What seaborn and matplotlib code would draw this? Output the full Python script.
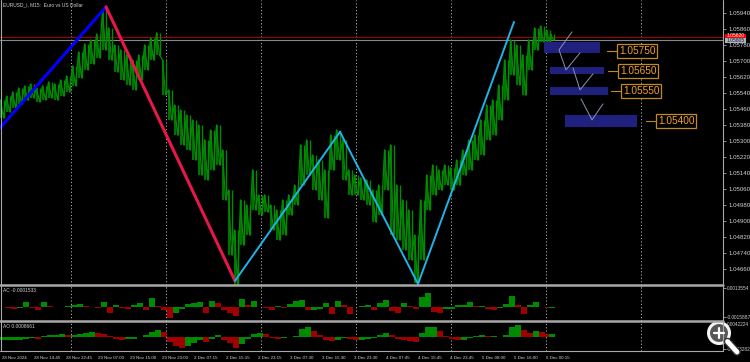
import matplotlib
matplotlib.use("Agg")
import matplotlib.pyplot as plt
import matplotlib.transforms as mtransforms
from matplotlib.patches import Rectangle, Circle
import seaborn as sns
import pandas as pd

sns.set_style("dark")
plt.rcParams['font.family'] = ['Liberation Sans', 'DejaVu Sans']

# ---------------- data ----------------
bar_idx = list(range(2, 549, 6)) + [552]

price_high = [1.05507, 1.05527, 1.05547, 1.05567, 1.05577, 1.05587, 1.05567, 1.05577, 1.05597, 1.05587,
              1.05607, 1.05627, 1.05677, 1.05747, 1.05787, 1.05807, 1.05837, 1.05957, 1.05867, 1.05782,
              1.05757, 1.05732, 1.05707, 1.05732, 1.05782, 1.05817, 1.05842, 1.05707, 1.05557, 1.05482,
              1.05457, 1.05432, 1.05407, 1.05382, 1.05307, 1.05357, 1.05382, 1.05257, 1.05057, 1.04857,
              1.05007, 1.04982, 1.05157, 1.05032, 1.05032, 1.04982, 1.04957, 1.05007, 1.05032, 1.05082,
              1.05282, 1.05307, 1.05232, 1.05207, 1.05157, 1.05332, 1.05357, 1.05307, 1.05157, 1.05132,
              1.05117, 1.05107, 1.05057, 1.05082, 1.05257, 1.05282, 1.05082, 1.05007, 1.04957, 1.04832,
              1.05007, 1.05132, 1.05182, 1.05157, 1.05182, 1.05167, 1.05207, 1.05257, 1.05307, 1.05332,
              1.05407, 1.05482, 1.05507, 1.05582, 1.05707, 1.05807, 1.05782, 1.05732, 1.05807, 1.05867,
              1.05877, 1.05857, 1.05837]

price_low = [1.05417, 1.05447, 1.05467, 1.05487, 1.05507, 1.05517, 1.05497, 1.05507, 1.05517, 1.05507,
             1.05527, 1.05547, 1.05577, 1.05617, 1.05657, 1.05687, 1.05717, 1.05757, 1.05707, 1.05647,
             1.05607, 1.05582, 1.05557, 1.05607, 1.05657, 1.05707, 1.05732, 1.05532, 1.05407, 1.05332,
             1.05282, 1.05257, 1.05207, 1.05132, 1.05107, 1.05157, 1.05182, 1.05007, 1.04732, 1.04582,
             1.04782, 1.04832, 1.04957, 1.04932, 1.04947, 1.04857, 1.04807, 1.04832, 1.04932, 1.04982,
             1.05082, 1.05132, 1.05057, 1.05007, 1.04917, 1.05157, 1.05207, 1.05107, 1.05032, 1.05032,
             1.05007, 1.04982, 1.04897, 1.04932, 1.05057, 1.04832, 1.04807, 1.04757, 1.04707, 1.04592,
             1.04707, 1.04957, 1.05032, 1.05057, 1.05082, 1.05057, 1.05082, 1.05132, 1.05157, 1.05207,
             1.05232, 1.05307, 1.05332, 1.05407, 1.05507, 1.05632, 1.05582, 1.05532, 1.05657, 1.05757,
             1.05797, 1.05797, 1.05807]

ac_values = [0.0, -0.0001, -0.0002, -0.0001, 0.0005, -0.0001, -0.0003, 0.0005, 0.0001, 0.0,
             0.0, 0.0001, 0.0002, 0.0003, 0.0001, 0.0, -0.0001, 0.0005, -0.0006, 0.0002,
             -0.0001, -0.0002, 0.0002, 0.0004, -0.0003, 0.0009, 0.0001, -0.0003, -0.0011, -0.0006,
             -0.0002, 0.0003, 0.0004, 0.0005, -0.0006, 0.0006, 0.0004, -0.0003, -0.0006, -0.0009,
             0.0008, 0.0002, 0.0006, 0.0, -0.0001, -0.0003, 0.0001, -0.0001, 0.0003, 0.0006,
             0.0007, -0.0003, -0.0003, -0.0002, 0.0004, -0.0007, 0.0006, 0.0002, -0.0007, 0.0,
             0.0001, 0.0002, -0.0003, 0.0004, 0.0007, -0.0004, -0.0006, 0.0004, 0.0001, -0.0002,
             0.0010, 0.0014, -0.0005, -0.0006, -0.0002, -0.0002, 0.0002, 0.0002, 0.0005, 0.0001,
             0.0001, -0.0002, -0.0003, -0.0001, 0.0003, 0.0011, 0.0002, -0.0007, 0.0002, 0.0005,
             0.0, -0.0001, -0.0001]

ao_values = [-0.0009, -0.0009, -0.0009, -0.0009, -0.0006, -0.0003, -0.0006, 0.0003, 0.0006, 0.0006,
             0.0009, 0.0006, 0.0006, 0.0009, 0.0012, 0.0015, 0.0012, 0.0009, 0.0003, -0.0006,
             -0.0009, -0.0006, -0.0006, 0.0, 0.0006, 0.0015, 0.0021, 0.0015, -0.0015, -0.0027,
             -0.0033, -0.0027, -0.0018, -0.0009, -0.0015, -0.0006, 0.0006, -0.0009, -0.0018, -0.0033,
             -0.0021, -0.0006, 0.0009, 0.0012, 0.0009, -0.0003, -0.0006, -0.0003, 0.0, 0.0003,
             0.0024, 0.0030, 0.0018, 0.0006, -0.0009, -0.0012, -0.0009, -0.0003, -0.0006, -0.0009,
             -0.0009, -0.0006, -0.0003, 0.0006, 0.0012, 0.0006, -0.0006, -0.0009, -0.0012, -0.0015,
             0.0012, 0.0030, 0.0030, 0.0018, 0.0003, -0.0006, -0.0009, -0.0009, -0.0003, 0.0003,
             0.0006, 0.0003, 0.0003, 0.0, 0.0006, 0.0030, 0.0036, 0.0021, 0.0012, 0.0018,
             0.0015, 0.0009, 0.0009]

zz_bars = [0, 106, 235, 340, 418, 514]
zz_prices = [1.05367, 1.05972, 1.04602, 1.05347, 1.04587, 1.05897]
zz_colors = ['#0000ff', '#e8174a', '#1eb4ea', '#1eb4ea', '#1eb4ea']

bid_price = 1.05820
ask_price = 1.05805

levels = [1.05750, 1.05650, 1.05550, 1.05400]
level_labels = ['1.05750', '1.05650', '1.05550', '1.05400']
zones = [(1.05740, 1.05798), (1.05636, 1.05671), (1.05532, 1.05571), (1.05374, 1.05432)]

proj_bars = [[572, 559, 566, 580], [573, 580, 593], [581, 592, 603]]
proj_prices = [[1.05847, 1.05757, 1.05657, 1.05742], [1.05667, 1.05557, 1.05637],
               [1.05512, 1.05407, 1.05487]]

price_ticks = [1.04660, 1.04740, 1.04820, 1.04900, 1.04980, 1.05060, 1.05140, 1.05220, 1.05300,
               1.05380, 1.05460, 1.05540, 1.05620, 1.05700, 1.05780, 1.05860, 1.05940]

time_ticks = [1, 33, 65, 97, 129, 161, 193, 225, 257, 289, 321, 353, 385, 417, 449, 481, 513, 545]
time_labels = ['28 Nov 2024', '28 Nov 14:45', '28 Nov 22:45', '29 Nov 07:00', '29 Nov 15:00',
               '29 Nov 23:00', '2 Dec 07:15', '2 Dec 15:15', '2 Dec 23:15', '3 Dec 07:30',
               '3 Dec 15:30', '3 Dec 23:30', '4 Dec 07:45', '4 Dec 15:45', '4 Dec 23:45',
               '5 Dec 08:00', '5 Dec 16:00', '6 Dec 00:15']
grid_bars = [70.5, 165.5, 260.5, 355.5, 450.5, 545.5, 640.5]

# ---------------- layout ----------------
W, H = 750.0, 362.0
fig = plt.figure(figsize=(7.5, 3.62), dpi=100)
fig.patch.set_facecolor('black')


def add_ax(x0, y0, x1, y1):
    a = fig.add_axes([x0 / W, 1 - y1 / H, (x1 - x0) / W, (y1 - y0) / H])
    a.set_facecolor('black')
    for s in a.spines.values():
        s.set_visible(False)
    a.set_xlim(0, 723)
    a.grid(False)
    return a


ax = add_ax(0, 0, 723, 285)
ax_ac = add_ax(0, 285, 723, 320.7)
ax_ao = add_ax(0, 320.7, 723, 351)

GREEN = '#008c00'
GRID = '#b0b0b0'
TXT = '#d0d0d0'

for a in (ax, ax_ac, ax_ao):
    for gx in grid_bars:
        a.axvline(gx, color=GRID, lw=0.7, ls=(0, (1.2, 2.2)), zorder=0.5)

# ---------------- main price panel ----------------
ax.set_ylim(1.045815, 1.060065)
bars_df = pd.DataFrame({'bar': bar_idx, 'high': price_high, 'low': price_low})
px, py = [], []
for x, h, l in zip(bar_idx, price_high, price_low):
    px += [x - 1.5, x + 1.5]
    py += [h, l]
path = pd.DataFrame({'bar': px, 'price': py})
sns.lineplot(data=path, x='bar', y='price', sort=False, estimator=None, color=GREEN,
             lw=0.9, ax=ax, zorder=2)
ax.vlines(bars_df['bar'] - 1.5, bars_df['low'], bars_df['high'], color=GREEN, lw=1.2, zorder=2)
ax.vlines(bars_df['bar'] + 1.5, bars_df['low'], bars_df['high'], color=GREEN, lw=1.0, zorder=2)

ax.axhline(bid_price, color='#a00000', lw=0.8, zorder=1.5)
ax.axhline(ask_price, color='#808890', lw=0.8, zorder=1.5)

for i in range(len(zz_bars) - 1):
    seg = pd.DataFrame({'bar': zz_bars[i:i + 2], 'price': zz_prices[i:i + 2]})
    lw = 2.2 if i < 2 else 1.4
    sns.lineplot(data=seg, x='bar', y='price', sort=False, estimator=None,
                 color=zz_colors[i], lw=lw, ax=ax, zorder=3)

zone_x = [(544, 600), (550, 604), (550, 608), (565, 637)]
for (x0, x1), (lo, hi) in zip(zone_x, zones):
    ax.add_patch(Rectangle((x0, lo), x1 - x0, hi - lo, facecolor='#20207e',
                           edgecolor='none', zorder=4))
for bx, bp in zip(proj_bars, proj_prices):
    ax.plot(bx, bp, color='#8a94b0', lw=0.7, zorder=5)

lead = [(607, 617), (608, 618), (611, 621), (646, 655)]
box_x = [619, 620, 623, 658]
ORANGE = '#f0a02a'
for lv, lab, (l0, l1), bx in zip(levels, level_labels, lead, box_x):
    ax.plot([l0, l1], [lv, lv], color='#c08a20', lw=0.8, zorder=5)
    ax.text(bx, lv, lab, fontsize=7.3, color=ORANGE, va='center', ha='left', zorder=6,
            bbox=dict(boxstyle='square,pad=0.18', facecolor='black', edgecolor='#c08a20', lw=0.9))

ax.yaxis.tick_right()
ax.set_yticks(price_ticks)
ax.set_yticklabels([f'{t:.5f}' for t in price_ticks])
ax.tick_params(axis='y', colors='#a0a0a0', labelcolor=TXT, labelsize=4.4,
               length=2.5, width=0.6, pad=1.2)
ax.set_xticks([])


# ---------------- oscillators ----------------
def osc_colors(vals):
    cols = []
    prev = vals[0]
    for v in vals:
        cols.append('#008a00' if v >= prev else '#a00000')
        prev = v
    return cols


ax_ac.bar(bar_idx, ac_values, width=6.0, color=osc_colors(ac_values), linewidth=0, zorder=2)
ax_ac.set_ylim(-0.0014, 0.00217)
ax_ac.yaxis.tick_right()
ax_ac.set_yticks([0.00184, -0.00103])
ax_ac.set_yticklabels(['0.0013554', '-0.0015887'])
ax_ac.tick_params(axis='y', colors='#a0a0a0', labelcolor=TXT, labelsize=3.4,
                  length=2.0, width=0.6, pad=0.8)
ax_ac.set_xticks([])

ax_ao.bar(bar_idx, ao_values, width=6.0, color=osc_colors(ao_values), linewidth=0, zorder=2)
ax_ao.set_ylim(-0.00411, 0.00498)
ax_ao.yaxis.tick_right()
ax_ao.set_yticks([0.00399, -0.00351])
ax_ao.set_yticklabels(['0.0042224', '-0.0043282'])
ax_ao.tick_params(axis='y', colors='#a0a0a0', labelcolor=TXT, labelsize=3.4,
                  length=2.0, width=0.6, pad=0.8)
ax_ao.set_xticks(time_ticks)
ax_ao.set_xticklabels(time_labels)
ax_ao.tick_params(axis='x', colors='#a0a0a0', labelcolor=TXT, labelsize=3.2,
                  length=2.5, width=0.6, pad=0.8)
offset = mtransforms.ScaledTranslation(1.5 / 100, 0, fig.dpi_scale_trans)
for lab in ax_ao.get_xticklabels():
    lab.set_horizontalalignment('left')
    lab.set_transform(lab.get_transform() + offset)
for a in (ax, ax_ac, ax_ao):
    a.set_xlabel('')
    a.set_ylabel('')

# ---------------- overlay: frame, labels, boxes ----------------
ov = fig.add_axes([0, 0, 1, 1], zorder=10)
ov.set_xlim(0, W)
ov.set_ylim(H, 0)
ov.axis('off')
ov.patch.set_alpha(0)

FRAME = '#a8a8a8'
ov.plot([0.6, 0.6], [0, 351], color=FRAME, lw=0.8)
ov.plot([723, 723], [0, 351], color=FRAME, lw=0.8)
ov.plot([0, 723], [351, 351], color=FRAME, lw=0.8)
ov.plot([0, 723], [285, 285], color=FRAME, lw=1.8)
ov.plot([0, 723], [320.7, 320.7], color=FRAME, lw=1.8)

ov.text(3, 4.5, 'EURUSD_i, M15:  Euro vs US Dollar', fontsize=3.5, color=TXT, va='center', ha='left')
ov.text(3, 290.5, 'AC -0.0001533', fontsize=3.5, color=TXT, va='center', ha='left')
ov.text(3, 326, 'AO 0.0008661', fontsize=3.5, color=TXT, va='center', ha='left')

ov.add_patch(Rectangle((725, 33.5), 21, 4.6, facecolor='#ff0000', edgecolor='none'))
ov.text(735.5, 35.8, f'{bid_price:.5f}', fontsize=3.6, color='white', va='center', ha='center')
ov.add_patch(Rectangle((725, 38.1), 21, 4.8, facecolor='#aab2c4', edgecolor='none'))
ov.text(735.5, 40.5, f'{ask_price:.5f}', fontsize=3.6, color='#202020', va='center', ha='center')

# magnifier icon
ov.plot([727.5, 737], [341.5, 352], color='#303030', lw=5.5, solid_capstyle='round')
ov.plot([727.5, 737], [341.5, 352], color='white', lw=3.5, solid_capstyle='round')
ov.add_patch(Circle((719, 333), 10.5, facecolor='#5c5c5c', edgecolor='white', lw=2.2, alpha=0.95))
ov.plot([714, 724], [333, 333], color='white', lw=1.6)
ov.plot([719, 719], [328, 338], color='white', lw=1.6)

fig.savefig('out.png', dpi=100, facecolor='black')
